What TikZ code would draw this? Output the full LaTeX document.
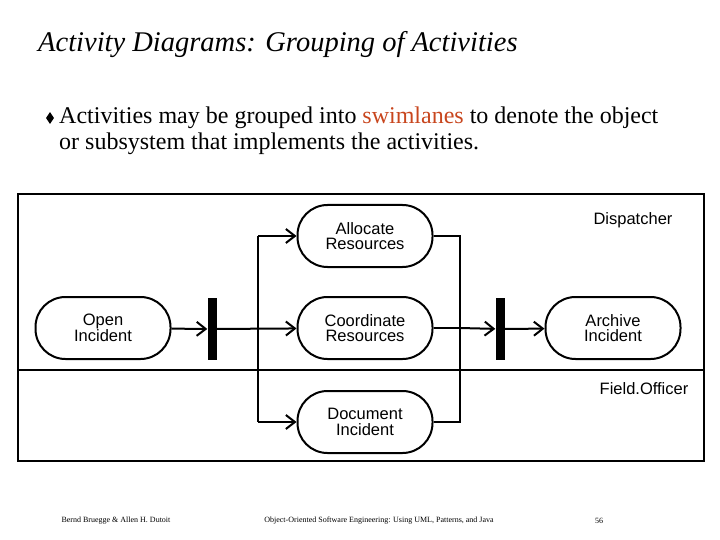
\documentclass[tikz,border=0pt]{standalone}
\usepackage{fontspec}
\setmainfont{Liberation Serif}
\newfontfamily\sans{Liberation Sans}
\usetikzlibrary{arrows.meta,shapes.geometric}
\begin{document}
\begin{tikzpicture}[x=1pt,y=-1pt,
  act/.style={draw,line width=2pt,rounded corners=30pt,minimum width=135pt,minimum height=62pt,font=\sans\fontsize{16.5}{15.5}\selectfont,align=center},
  bar/.style={fill=black,minimum width=9pt,minimum height=62pt,inner sep=0},
  flow/.style={line width=2pt,-{Straight Barb[length=9pt,width=14pt,line width=2pt]}},
  ln/.style={line width=2pt}]
\useasboundingbox (0,0) rectangle (720,540);
\node[anchor=west,font=\itshape\fontsize{28.5}{30}\selectfont,inner sep=0] (title) at (38,45) {Activity Diagrams: Grouping of Activities};
\node[diamond,fill=black,minimum width=8pt,minimum height=12pt,inner sep=0] (bul) at (50,118) {};
\node[anchor=north west,align=left,font=\fontsize{24}{26}\selectfont,inner sep=0] (txt) at (59,107) {Activities may be grouped into \textcolor[RGB]{200,70,30}{swimlanes} to denote the object\\or subsystem that implements the activities.};
\draw[line width=2.5pt] (18,194) rectangle (704,461);
\draw[line width=2.5pt] (18,370) -- (704,370);
\node[font=\sans\fontsize{16.5}{18}\selectfont] (disp) at (633,220) {Dispatcher};
\node[font=\sans\fontsize{16.5}{18}\selectfont] (fo) at (644,389) {Field.Officer};
\node[act] (alloc) at (365,236) {Allocate\\Resources};
\node[act] (open) at (103,328) {Open\\Incident};
\node[act] (coord) at (365,328) {Coordinate\\Resources};
\node[act] (arch) at (613,328) {Archive\\Incident};
\node[act] (doc) at (365,422) {Document\\Incident};
\node[bar] (b1) at (212,329) {};
\node[bar] (b2) at (500,329) {};
\coordinate (l1) at (258,328);
\coordinate (l1t) at (258,236);
\coordinate (l1b) at (258,422);
\coordinate (r1t) at (460,236);
\coordinate (r1b) at (460,422);
\coordinate (r1) at (460,328);
\draw[flow] (open) -- (b1);
\draw[flow] (b1) -- (coord);
\draw[ln] (l1t) -- (l1b);
\draw[flow] (l1t) -- (alloc);
\draw[flow] (l1b) -- (doc);
\draw[ln] (alloc) -- (r1t) -- (r1b) -- (doc);
\draw[ln] (coord) -- (r1);
\draw[flow] (r1) -- (b2);
\draw[flow] (b2) -- (arch);
\node[font=\fontsize{8}{8}\selectfont] (f1) at (116,521) {Bernd Bruegge \& Allen H. Dutoit};
\node[font=\fontsize{8}{8}\selectfont] (f2) at (379,521) {Object-Oriented Software Engineering: Using UML, Patterns, and Java};
\node[font=\fontsize{8}{8}\selectfont] (f3) at (599,521) {56};
\end{tikzpicture}
\end{document}
